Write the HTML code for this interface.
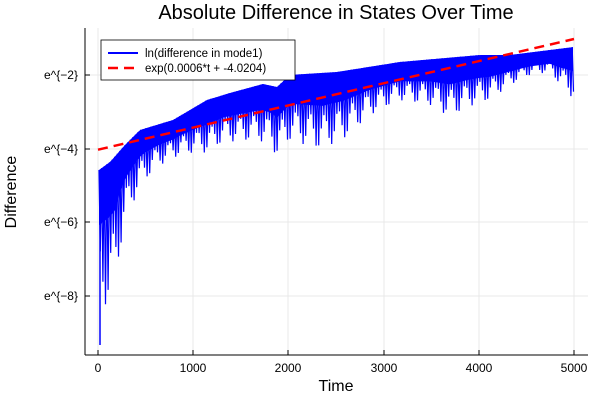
<!DOCTYPE html>
<html><head><meta charset="utf-8"><style>
body{margin:0;background:#fff}
svg text{font-family:"Liberation Sans","DejaVu Sans",sans-serif}
</style></head><body>
<svg id="s" width="600" height="400" xmlns="http://www.w3.org/2000/svg">
<rect width="600" height="400" fill="#fff"/>
<g stroke="#e8e8e8" stroke-width="1">
<line x1="98" y1="28" x2="98" y2="355"/><line x1="193" y1="28" x2="193" y2="355"/>
<line x1="288" y1="28" x2="288" y2="355"/><line x1="384" y1="28" x2="384" y2="355"/>
<line x1="479" y1="28" x2="479" y2="355"/><line x1="574" y1="28" x2="574" y2="355"/>
<line x1="85" y1="75" x2="588" y2="75"/><line x1="85" y1="149" x2="588" y2="149"/>
<line x1="85" y1="222" x2="588" y2="222"/><line x1="85" y1="296" x2="588" y2="296"/>
</g>
<g stroke="#000" stroke-width="1">
<line x1="85" y1="28" x2="85" y2="355"/><line x1="85" y1="355" x2="588" y2="355"/>
<line x1="98" y1="355" x2="98" y2="350"/><line x1="193" y1="355" x2="193" y2="350"/>
<line x1="288" y1="355" x2="288" y2="350"/><line x1="384" y1="355" x2="384" y2="350"/>
<line x1="479" y1="355" x2="479" y2="350"/><line x1="574" y1="355" x2="574" y2="350"/>
<line x1="85" y1="75" x2="90" y2="75"/><line x1="85" y1="149" x2="90" y2="149"/>
<line x1="85" y1="222" x2="90" y2="222"/><line x1="85" y1="296" x2="90" y2="296"/>
</g>
<g font-size="12" fill="#000" text-anchor="middle">
<text x="98" y="372">0</text><text x="193" y="372">1000</text><text x="288" y="372">2000</text>
<text x="384" y="372">3000</text><text x="479" y="372">4000</text><text x="574" y="372">5000</text>
</g>
<g font-size="12" fill="#000" text-anchor="end">
<text x="78" y="79">e^{−2}</text><text x="78" y="153">e^{−4}</text>
<text x="78" y="226">e^{−6}</text><text x="78" y="300">e^{−8}</text>
</g>
<text x="336" y="391" font-size="16" text-anchor="middle">Time</text>
<text transform="translate(16,192) rotate(-90)" font-size="16" text-anchor="middle">Difference</text>
<text x="336" y="19" font-size="20" text-anchor="middle">Absolute Difference in States Over Time</text>
<g id="blue"></g>
<line x1="100" y1="172" x2="100" y2="345" stroke="#00f" stroke-width="1.5"/>
<line x1="98" y1="149.7" x2="574" y2="39" stroke="#f00" stroke-width="2.5" stroke-dasharray="10,6"/>
<rect x="101" y="40" width="194" height="40" fill="#fff" stroke="#000" stroke-width="0.8"/>
<line x1="108" y1="53" x2="138" y2="53" stroke="#00f" stroke-width="2"/>
<line x1="108" y1="68" x2="138" y2="68" stroke="#f00" stroke-width="2.5" stroke-dasharray="10,6"/>
<text x="145" y="57" font-size="11.5">ln(difference in mode1)</text>
<text x="145" y="72" font-size="11.5">exp(0.0006*t + -4.0204)</text>
</svg>
<script>
function interp(pts,x){for(var i=0;i<pts.length-1;i++){if(x<=pts[i+1][0]){var a=pts[i],b=pts[i+1];return a[1]+(b[1]-a[1])*(x-a[0])/(b[0]-a[0]);}}return pts[pts.length-1][1];}
var up=[[99,170],[110,162],[125,145],[140,130],[173,120],[207,100],[230,93],[263,84],[277,87],[290,75],[337,72],[400,62],[480,55],[510,55],[550,50],[574,47]];
var lo=[[99,310],[103,308],[110,300],[115,293],[120,250],[125,225],[135,198],[145,180],[160,165],[180,155],[200,152],[207,153],[223,142],[257,140],[270,145],[277,157],[290,140],[323,150],[330,145],[345,138],[370,115],[400,100],[430,105],[450,117],[470,106],[490,100],[510,85],[530,75],[550,72],[560,85],[570,95],[574,100]];
var g=document.getElementById('blue'),ns="http://www.w3.org/2000/svg";
var band=[],band2=[];
for(var x=99;x<=574;x+=2){var u=interp(up,x),l=interp(lo,x);band.push(x+","+u);band2.unshift(x+","+Math.min(l,u+0.35*(l-u)+6));}
var p=document.createElementNS(ns,"polygon");p.setAttribute("points",band.concat(band2).join(" "));p.setAttribute("fill","#00f");g.appendChild(p);
var pts=[],k=0;
for(var x=99;x<=574;x+=1.3){var u=interp(up,x),l=interp(lo,x);var r=0.55+0.45*Math.pow(Math.abs(Math.sin(k*0.29)),2);pts.push(x.toFixed(1)+","+(u+(k%2? (l-u)*r:0)).toFixed(1));k++;}
var pl=document.createElementNS(ns,"polyline");pl.setAttribute("points",pts.join(" "));pl.setAttribute("fill","none");pl.setAttribute("stroke","#00f");pl.setAttribute("stroke-width","1.2");g.appendChild(pl);
</script>
</body></html>
